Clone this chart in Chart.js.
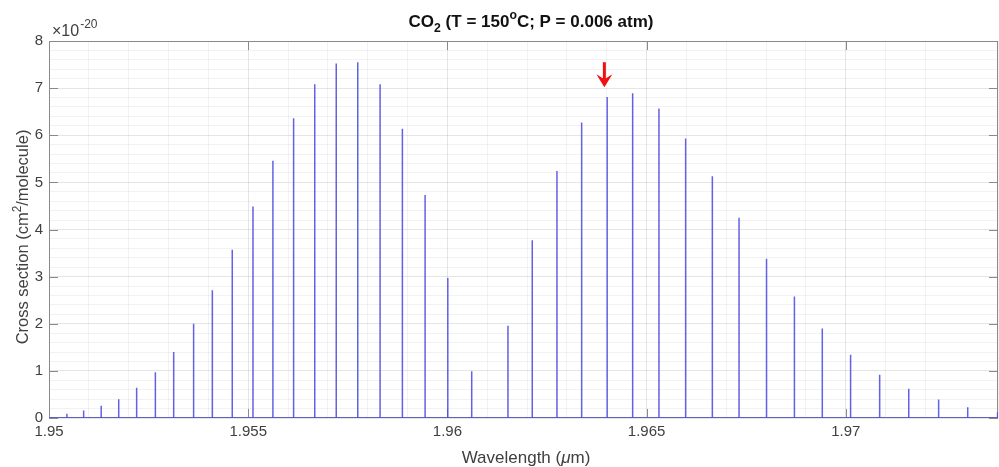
<!DOCTYPE html>
<html>
<head>
<meta charset="utf-8">
<script src="https://cdn.jsdelivr.net/npm/chart.js@4"></script>
<style>
  html, body { margin: 0; padding: 0; background: #fff; }
  #wrap { width: 999px; height: 467px; }
</style>
</head>
<body>
<div id="wrap"><canvas id="spec"></canvas></div>
<script>
// line centres (um) and peak cross sections (x1e-20 cm2/molecule)
const lineWl = [
  1.95045, 1.95087, 1.95131, 1.95175, 1.95220, 1.95267, 1.95313, 1.95363,
  1.95410, 1.95460, 1.95512, 1.95562, 1.95614, 1.95667, 1.95721, 1.95775,
  1.95831, 1.95887, 1.95944, 1.96001, 1.96061,
  1.96152, 1.96213, 1.96275, 1.96337, 1.96401, 1.96465, 1.96531, 1.96598,
  1.96665, 1.96732, 1.96801, 1.96871, 1.96941, 1.97012, 1.97085, 1.97158,
  1.97233, 1.97306, 1.97381
];
const crossSection = [
  0.09, 0.16, 0.26, 0.40, 0.64, 0.97, 1.40, 2.00,
  2.71, 3.57, 4.49, 5.46, 6.36, 7.08, 7.52, 7.55,
  7.08, 6.14, 4.73, 2.97, 0.99,
  1.96, 3.77, 5.24, 6.27, 6.81, 6.89, 6.57, 5.93,
  5.13, 4.25, 3.38, 2.58, 1.90, 1.34, 0.92, 0.62,
  0.39, 0.23, 0.12
];
const xRange = [1.95, 1.97382];
const yRange = [0, 8];
const xMajorTicks = [1.95, 1.955, 1.96, 1.965, 1.97];
const yMajorTicks = [0, 1, 2, 3, 4, 5, 6, 7, 8];
// red arrow marking the 1.964 um line
const arrowWl = 1.96394;
const arrowFrom = 7.55;
const arrowTo = 7.02;

// stick spectrum: baseline -> peak -> baseline for each line
const specPts = [{ x: xRange[0], y: 0 }];
lineWl.forEach((w, i) => {
  specPts.push({ x: w, y: 0 }, { x: w, y: crossSection[i] }, { x: w, y: 0 });
});
specPts.push({ x: xRange[1], y: 0 });

const isMajor = (v, list) => list.some(t => Math.abs(t - v) < 1e-7);
const AXIS = '#8a8a8a';
const TXT = '#404040';
const FONT = '"Liberation Sans", Arial, sans-serif';

function richText(ctx, parts, x, y, size, bold) {
  const fontOf = p => (p.it ? 'italic ' : '') + (bold ? 'bold ' : '') +
    (p.s ? size * 0.72 : size) + 'px ' + FONT;
  const w = parts.map(p => { ctx.font = fontOf(p); return ctx.measureText(p.t).width; });
  let cx = x - w.reduce((a, b) => a + b, 0) / 2;
  parts.forEach((p, i) => {
    ctx.font = fontOf(p);
    const dy = p.s === 'sup' ? -size * 0.45 : p.s === 'sub' ? size * 0.3 : 0;
    ctx.fillText(p.t, cx, y + dy);
    cx += w[i];
  });
}

const decor = {
  id: 'decor',
  beforeDatasetsDraw(chart) {
    const { ctx, chartArea: a, scales: { x, y } } = chart;
    ctx.save();
    // box
    ctx.strokeStyle = AXIS;
    ctx.lineWidth = 1;
    ctx.strokeRect(a.left + 0.5, a.top + 0.5, a.right - a.left - 1, a.bottom - a.top - 1);
    // inward ticks on all sides
    ctx.beginPath();
    xMajorTicks.forEach(t => {
      const px = Math.round(x.getPixelForValue(t)) + 0.5;
      ctx.moveTo(px, a.bottom); ctx.lineTo(px, a.bottom - 9);
      ctx.moveTo(px, a.top); ctx.lineTo(px, a.top + 9);
    });
    yMajorTicks.forEach(t => {
      const py = Math.round(y.getPixelForValue(t)) + 0.5;
      ctx.moveTo(a.left, py); ctx.lineTo(a.left + 9, py);
      ctx.moveTo(a.right, py); ctx.lineTo(a.right - 9, py);
    });
    ctx.stroke();
    ctx.restore();
  },
  afterDraw(chart) {
    const { ctx, chartArea: a, scales: { x, y } } = chart;
    ctx.save();
    ctx.fillStyle = TXT;
    ctx.textBaseline = 'alphabetic';
    ctx.textAlign = 'left';
    // exponent
    ctx.font = '16px ' + FONT;
    ctx.fillText('\u00d710', 52, 36);
    const ew = ctx.measureText('\u00d710').width;
    ctx.font = '12px ' + FONT;
    ctx.fillText('-20', 52 + ew + 1, 28);

    // title
    ctx.fillStyle = '#111';
    richText(ctx, [
      { t: 'CO' }, { t: '2', s: 'sub' }, { t: ' (T = 150' }, { t: 'o', s: 'sup' },
      { t: 'C; P = 0.006 atm)' }
    ], 531, 27, 17, true);

    // x title
    ctx.fillStyle = TXT;
    richText(ctx, [{ t: 'Wavelength (' }, { t: '\u03bc', it: true }, { t: 'm)' }],
      526, 463, 17, false);

    // y title
    ctx.save();
    ctx.translate(28, 237);
    ctx.rotate(-Math.PI / 2);
    richText(ctx, [{ t: 'Cross section (cm' }, { t: '2', s: 'sup' }, { t: '/molecule)' }], 0, 0, 16.5, false);
    ctx.restore();

    // red arrow
    const ax = x.getPixelForValue(arrowWl);
    const y0 = y.getPixelForValue(arrowFrom);
    const y1 = y.getPixelForValue(arrowTo);
    ctx.strokeStyle = '#f01010';
    ctx.fillStyle = '#f01010';
    ctx.lineWidth = 3;
    ctx.beginPath();
    ctx.moveTo(ax, y0); ctx.lineTo(ax, y1 - 8);
    ctx.stroke();
    ctx.beginPath();
    ctx.moveTo(ax, y1);
    ctx.lineTo(ax - 8, y1 - 13);
    ctx.lineTo(ax, y1 - 8);
    ctx.lineTo(ax + 8, y1 - 13);
    ctx.closePath();
    ctx.fill();
    ctx.restore();
  }
};

new Chart(document.getElementById('spec'), {
  type: 'line',
  data: {
    datasets: [{
      data: specPts,
      borderColor: 'rgba(70, 70, 225, 0.85)',
      borderWidth: 1.5,
      pointRadius: 0,
      tension: 0,
      fill: false
    }]
  },
  options: {
    responsive: true,
    maintainAspectRatio: false,
    animation: false,
    events: [],
    layout: { padding: { top: 41, right: 1, left: 0, bottom: 0 } },
    plugins: { legend: { display: false }, title: { display: false }, tooltip: { enabled: false } },
    scales: {
      x: {
        type: 'linear',
        min: xRange[0],
        max: xRange[1],
        afterFit: s => { s.height = 49; s.paddingRight = 0; s.paddingLeft = 0; },
        border: { display: false },
        grid: {
          drawTicks: false,
          color: c => isMajor(c.tick.value, xMajorTicks) ? 'rgba(0,0,0,0.10)' : 'rgba(0,0,0,0.05)'
        },
        ticks: {
          stepSize: 0.001,
          autoSkip: false,
          maxRotation: 0,
          padding: 5,
          color: TXT,
          font: { family: FONT, size: 15 },
          callback: v => isMajor(v, xMajorTicks) ? String(parseFloat(v.toFixed(3))) : ''
        }
      },
      y: {
        min: yRange[0],
        max: yRange[1],
        afterFit: s => { s.width = 49; },
        border: { display: false },
        grid: {
          drawTicks: false,
          color: c => isMajor(c.tick.value, yMajorTicks) ? 'rgba(0,0,0,0.10)' : 'rgba(0,0,0,0.05)'
        },
        ticks: {
          stepSize: 0.2,
          autoSkip: false,
          padding: 6,
          color: TXT,
          font: { family: FONT, size: 15 },
          callback: v => isMajor(v, yMajorTicks) ? String(Math.round(v)) : ''
        }
      }
    }
  },
  plugins: [decor]
});
</script>
</body>
</html>
